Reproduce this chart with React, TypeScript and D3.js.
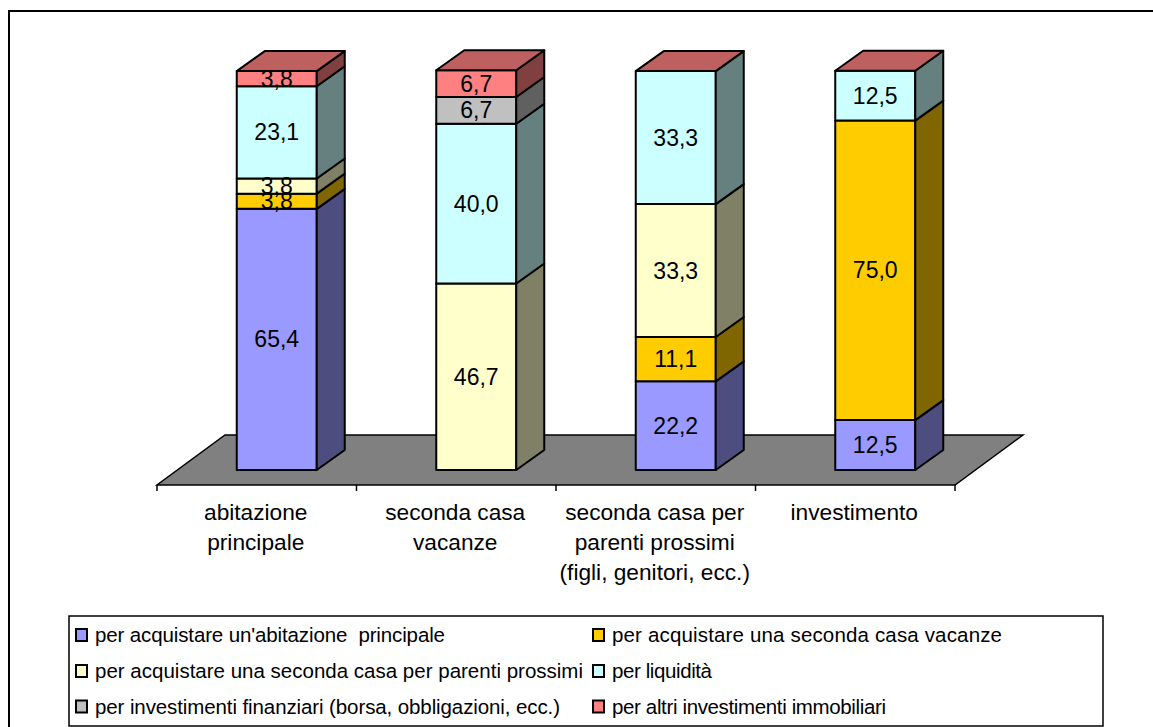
import React from "react";
import * as d3 from "d3";

const categories = [
  ["abitazione", "principale"],
  ["seconda casa", "vacanze"],
  ["seconda casa per", "parenti prossimi", "(figli, genitori, ecc.)"],
  ["investimento"],
];
const seriesNames = [
  "per acquistare un'abitazione  principale",
  "per acquistare una seconda casa vacanze",
  "per acquistare una seconda casa per parenti prossimi",
  "per liquidità",
  "per investimenti finanziari (borsa, obbligazioni, ecc.)",
  "per altri investimenti immobiliari",
];
const seriesColors = ["#9999FF", "#FFCC00", "#FFFFCC", "#CCFFFF", "#C0C0C0", "#FF8080"];
const abitazione = [65.4, 3.8, 3.8, 23.1, 0, 3.8];
const secondaCasa = [0, 0, 46.7, 40.0, 6.7, 6.7];
const parenti = [22.2, 11.1, 33.3, 33.3, 0, 0];
const investimento = [12.5, 75.0, 0, 12.5, 0, 0];
const columns = [abitazione, secondaCasa, parenti, investimento];

const FONT = "'Liberation Sans', Arial, sans-serif";
const INK = "#000";

// Oblique projection used by the 3D look: floor depth and column depth.
const floor = { left: 157, right: 955, front: 485, dx: 68, dy: -50 };
const barDepth = { dx: 28, dy: -20 };
const barWidth = 80;

// Set widths of the legend entries, so the two columns keep their spacing.
const legendTextWidths = [350, 390, 488, 100, 465, 274];

const shade = (c: string, k: number) => {
  const r = d3.rgb(c);
  return d3.rgb(r.r * k, r.g * k, r.b * k).formatHex();
};

const poly = (pts: [number, number][]) => pts.map((p) => p.join(",")).join(" ");

export default function App() {
  const x = d3
    .scaleBand<number>()
    .domain(d3.range(categories.length))
    .range([floor.left, floor.right]);
  const baseY = floor.front + (floor.dy - barDepth.dy) / 2;
  const y = d3.scaleLinear().domain([0, 100]).range([baseY, 70.7]);
  const shiftX = (floor.dx - barDepth.dx) / 2;
  const ticks = d3.range(categories.length + 1).map((i) => floor.left + i * x.bandwidth());

  const legendCols = [75, 592];
  const legendRows = [635, 671, 706.5];

  return (
    <svg
      width={1153}
      height={727}
      style={{ position: "absolute", left: 0, top: 0, background: "#fff" }}
      fontFamily={FONT}
    >
      {/* chart frame: only its top and left edges fall inside the page */}
      <path d="M9,727V11H1153" fill="none" stroke={INK} strokeWidth={2} />

      {/* floor */}
      <polygon
        points={poly([
          [floor.left, floor.front],
          [floor.right, floor.front],
          [floor.right + floor.dx, floor.front + floor.dy],
          [floor.left + floor.dx, floor.front + floor.dy],
        ])}
        fill="#808080"
        stroke={INK}
        strokeWidth={1.5}
      />
      {ticks.map((t) => (
        <line key={t} x1={t} x2={t} y1={floor.front} y2={floor.front + 6} stroke={INK} strokeWidth={1.5} />
      ))}

      {/* stacked columns */}
      {columns.map((vals, c) => {
        const left = (x(c) as number) + (x.bandwidth() - barWidth) / 2 + shiftX;
        const right = left + barWidth;
        const stack = d3.cumsum(vals);
        const total = stack[stack.length - 1];
        const lastColor = seriesColors[seriesColors.length - 1];
        return (
          <g key={c}>
            {vals.map((v, i) => {
              if (v === 0) return null;
              const y0 = y(stack[i] - v);
              const y1 = y(stack[i]);
              return (
                <g key={i} stroke={INK} strokeWidth={2} strokeLinejoin="round">
                  <rect x={left} y={y1} width={barWidth} height={y0 - y1} fill={seriesColors[i]} />
                  <polygon
                    points={poly([
                      [right, y0],
                      [right + barDepth.dx, y0 + barDepth.dy],
                      [right + barDepth.dx, y1 + barDepth.dy],
                      [right, y1],
                    ])}
                    fill={shade(seriesColors[i], 0.5)}
                  />
                </g>
              );
            })}
            <polygon
              points={poly([
                [left, y(total)],
                [right, y(total)],
                [right + barDepth.dx, y(total) + barDepth.dy],
                [left + barDepth.dx, y(total) + barDepth.dy],
              ])}
              fill={shade(lastColor, 0.75)}
              stroke={INK}
              strokeWidth={2}
              strokeLinejoin="round"
            />
            {vals.map((v, i) =>
              v === 0 ? null : (
                <text
                  key={i}
                  x={left + barWidth / 2}
                  y={(y(stack[i] - v) + y(stack[i])) / 2}
                  dy="0.35em"
                  textAnchor="middle"
                  fontSize={23}
                  fill={INK}
                >
                  {v.toFixed(1).replace(".", ",")}
                </text>
              )
            )}
          </g>
        );
      })}

      {/* category axis labels */}
      {categories.map((lines, c) => (
        <text key={c} textAnchor="middle" fontSize={22.7} fill={INK}>
          {lines.map((line, l) => (
            <tspan key={l} x={(x(c) as number) + x.bandwidth() / 2 - 1} y={520 + l * 30}>
              {line}
            </tspan>
          ))}
        </text>
      ))}

      {/* legend */}
      <rect x={69} y={616} width={1034} height={110} fill="#fff" stroke={INK} strokeWidth={1.5} />
      {seriesNames.map((name, i) => {
        const cx = legendCols[i % 2];
        const cy = legendRows[Math.floor(i / 2)];
        return (
          <g key={name}>
            <rect x={cx + 1} y={cy - 6} width={11} height={12} fill={seriesColors[i]} stroke={INK} strokeWidth={2} />
            <text
              x={cx + 20}
              y={cy + 7}
              fontSize={20.5}
              fill={INK}
              textLength={legendTextWidths[i]}
              lengthAdjust="spacing"
              style={{ whiteSpace: "pre" }}
            >
              {name}
            </text>
          </g>
        );
      })}
    </svg>
  );
}
